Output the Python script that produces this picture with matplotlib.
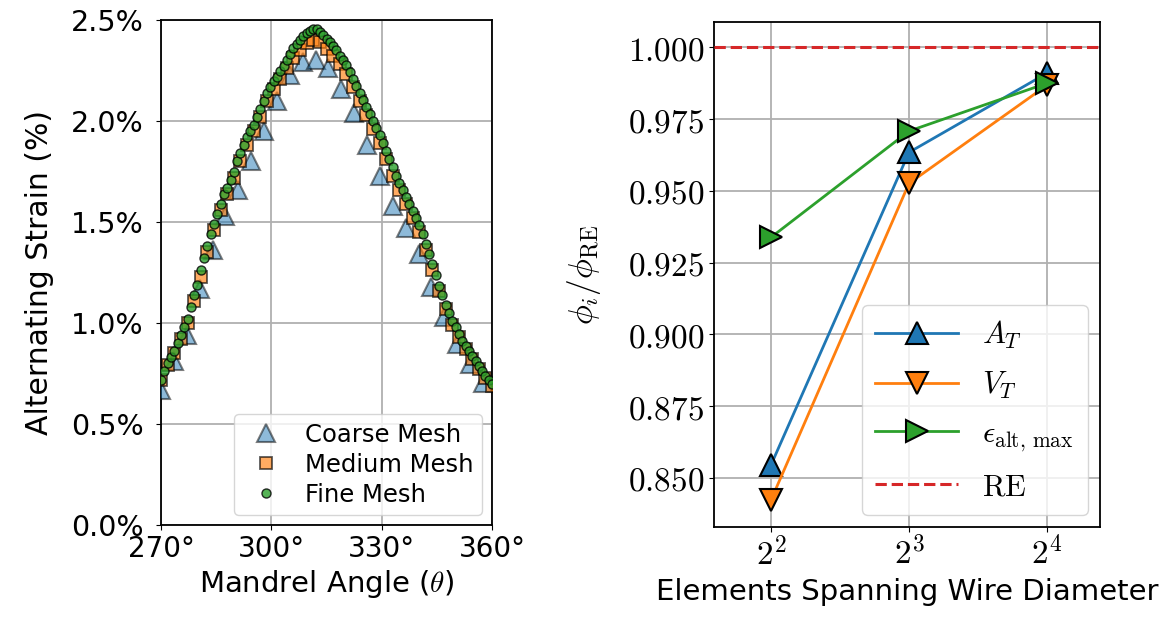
import numpy as np
import matplotlib
matplotlib.use("Agg")
import matplotlib.pyplot as plt

plt.rcParams["font.family"] = ["DejaVu Sans"]
plt.rcParams["mathtext.fontset"] = "cm"
plt.rcParams["axes.linewidth"] = 1.3

# alternating strain (%) along the mandrel, three mesh densities
coarse_strain = [
    0.67, 0.81, 0.94, 1.17, 1.36, 1.53, 1.66, 1.80, 1.95, 2.10,
    2.23, 2.29, 2.30, 2.26, 2.16, 2.04, 1.88, 1.73, 1.58, 1.47,
    1.34, 1.18, 1.03, 0.895, 0.795, 0.705,
]
medium_strain = [
    0.72, 0.79, 0.85, 0.92, 1.00, 1.11, 1.23, 1.35, 1.46, 1.56,
    1.64, 1.72, 1.80, 1.88, 1.95, 2.02, 2.10, 2.16, 2.21, 2.26,
    2.31, 2.35, 2.385, 2.40, 2.39, 2.355, 2.32, 2.28, 2.235, 2.17,
    2.10, 2.03, 1.96, 1.89, 1.81, 1.73, 1.66, 1.59, 1.52, 1.45,
    1.36, 1.26, 1.16, 1.07, 0.99, 0.93, 0.87, 0.82, 0.77, 0.73,
    0.69,
]
fine_strain = [
    0.72, 0.76, 0.80, 0.83, 0.86, 0.90, 0.94, 0.98, 1.02, 1.08,
    1.14, 1.19, 1.26, 1.32, 1.38, 1.44, 1.49, 1.54, 1.59, 1.64,
    1.67, 1.71, 1.75, 1.80, 1.84, 1.88, 1.92, 1.95, 1.98, 2.02,
    2.06, 2.10, 2.14, 2.17, 2.20, 2.22, 2.25, 2.27, 2.30, 2.33,
    2.36, 2.38, 2.40, 2.42, 2.435, 2.445, 2.455, 2.455, 2.44, 2.425,
    2.405, 2.39, 2.37, 2.35, 2.32, 2.30, 2.275, 2.245, 2.21, 2.175,
    2.14, 2.105, 2.07, 2.035, 2.00, 1.965, 1.93, 1.89, 1.85, 1.81,
    1.77, 1.73, 1.695, 1.66, 1.625, 1.59, 1.555, 1.52, 1.485, 1.44,
    1.39, 1.34, 1.29, 1.24, 1.185, 1.14, 1.09, 1.05, 1.01, 0.98,
    0.945, 0.91, 0.885, 0.86, 0.835, 0.81, 0.785, 0.76, 0.74, 0.72,
    0.70,
]

# nodes are evenly spaced around the mandrel for each mesh
coarse_angle = np.linspace(270, 357.5, len(coarse_strain))
medium_angle = np.linspace(270, 360, len(medium_strain))
fine_angle = np.linspace(270, 360, len(fine_strain))

angle_ticks = [270, 300, 330, 360]
strain_ticks = [0.0, 0.5, 1.0, 1.5, 2.0, 2.5]

# convergence study: ratio to the reference (RE) solution
elements = [4, 8, 16]
ratio_AT = [0.8545, 0.9634, 0.991]
ratio_VT = [0.8423, 0.9526, 0.9868]
ratio_eps = [0.9338, 0.9708, 0.9875]
ratio_ticks = [0.850, 0.875, 0.900, 0.925, 0.950, 0.975, 1.000]

fig = plt.figure(figsize=(11.73, 6.25), dpi=100)
ax1 = fig.add_axes([0.1373, 0.16, 0.2822, 0.808])
ax2 = fig.add_axes([0.6087, 0.1568, 0.3291, 0.8075])

# --- strain distribution ---
ax1.plot(coarse_angle, coarse_strain, "^", ms=13, color="C0", alpha=0.5,
         mec="black", mew=1.5, label="Coarse Mesh", zorder=3)
ax1.plot(medium_angle, medium_strain, "s", ms=9, color="C1", alpha=0.65,
         mec="black", mew=1.3, label="Medium Mesh", zorder=4)
ax1.plot(fine_angle, fine_strain, "o", ms=6.5, color="C2", alpha=0.8,
         mec="black", mew=1.0, label="Fine Mesh", zorder=5)

ax1.set_xlim(270, 360)
ax1.set_ylim(0, 2.5)
ax1.set_xticks(angle_ticks)
ax1.set_xticklabels([f"{a}\u00b0" for a in angle_ticks], fontsize=20)
ax1.set_yticks(strain_ticks)
ax1.set_yticklabels([f"{s:.1f}%" for s in strain_ticks], fontsize=20.5)
ax1.tick_params(axis="y", pad=9)
ax1.set_xlabel(r"Mandrel Angle ($\theta$)", fontsize=21)
ax1.set_ylabel("Alternating Strain (%)", fontsize=21.5, labelpad=12)
ax1.grid(True, color="#b0b0b0", linewidth=1.3)
ax1.set_axisbelow(True)
ax1.legend(loc="lower right", fontsize=17.5, handletextpad=0.6,
           borderpad=0.35, labelspacing=0.25, borderaxespad=0.4)

# --- mesh convergence ---
ax2.plot(elements, ratio_AT, "-^", color="C0", lw=2, ms=16, mec="black",
         mew=1.5, label=r"$A_T$", zorder=4)
ax2.plot(elements, ratio_VT, "-v", color="C1", lw=2, ms=16, mec="black",
         mew=1.5, label=r"$V_T$", zorder=4)
ax2.plot(elements, ratio_eps, "->", color="C2", lw=2, ms=16, mec="black",
         mew=1.5, label=r"$\epsilon_{\rm alt,\,max}$", zorder=4)
ax2.axhline(1.0, color="#d62728", ls="--", lw=2.2, label=r"$\mathrm{RE}$",
            zorder=3)

ax2.set_xscale("log", base=2)
ax2.set_xlim(2 ** 1.587, 2 ** 4.384)
ax2.set_ylim(0.8329, 1.0087)
ax2.set_xticks(elements)
ax2.set_xticklabels([f"$2^{{{int(np.log2(e))}}}$" for e in elements],
                    fontsize=24)
ax2.minorticks_off()
ax2.set_yticks(ratio_ticks)
ax2.set_yticklabels([f"${r:.3f}$" for r in ratio_ticks], fontsize=24)
ax2.set_xlabel("Elements Spanning Wire Diameter", fontsize=21)
ax2.set_ylabel(r"$\phi_i/\phi_{\rm RE}$", fontsize=24, labelpad=18)
ax2.grid(True, color="#b0b0b0", linewidth=1.3)
ax2.set_axisbelow(True)
ax2.legend(loc="lower right", fontsize=22, handlelength=2.7,
           borderpad=0.45, labelspacing=0.6, borderaxespad=0.4)

fig.savefig("out.png", dpi=100, facecolor="white")
